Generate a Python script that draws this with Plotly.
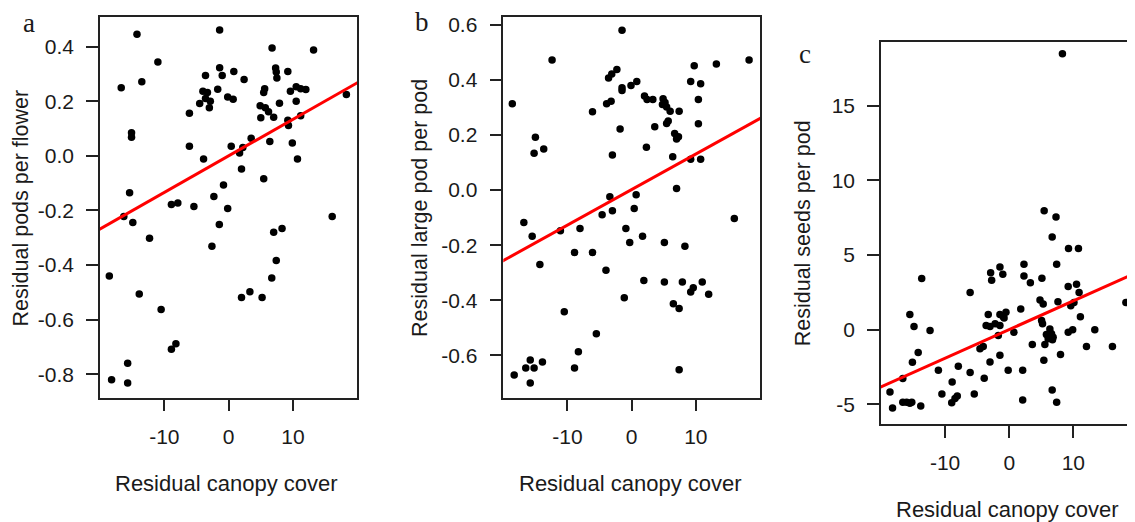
import plotly.graph_objects as go

# ---------------- data ----------------
# Panel a: residual pods per flower
a_x = [-14.25, -16.7, -13.5, -11.0, -15.1, -15.1, -15.4, -16.3, -14.9, -12.3,
       -8.9, -7.9, -5.4, -2.3, -0.8, -0.15, -1.45, -2.6, 5.45, 7.0,
       8.3, 7.4, 6.7, 2.0, 3.3, 5.2, 16.1, -18.55, -13.9, -10.5,
       -8.9, -8.2, -15.7, -18.2, -15.7, -1.4, 6.75, 13.2, -1.4, -1.0,
       -3.6, 0.8, 2.4, 7.3, 7.4, 7.5, 9.2, -4.0, -3.3, -1.7,
       -3.6, -2.85, -4.5, -3.0, -0.15, 0.7, -6.1, 5.6, 5.45, 4.9,
       5.7, 5.0, 6.2, 7.0, 7.9, 9.6, 10.5, 11.2, 12.0, 10.5,
       9.2, 9.3, 11.2, 18.3, -6.1, -3.9, 0.4, 2.2, 1.7, 3.5,
       6.4, 9.9, 10.7, 2.0]
a_y = [0.446, 0.250, 0.272, 0.344, 0.085, 0.068, -0.135, -0.222, -0.244, -0.302,
       -0.178, -0.173, -0.185, -0.149, -0.107, -0.193, -0.251, -0.331, -0.084, -0.280,
       -0.266, -0.383, -0.447, -0.519, -0.498, -0.519, -0.222, -0.440, -0.506, -0.563,
       -0.709, -0.688, -0.760, -0.820, -0.832, 0.461, 0.395, 0.388, 0.323, 0.295,
       0.295, 0.309, 0.280, 0.322, 0.307, 0.285, 0.309, 0.237, 0.232, 0.244,
       0.210, 0.200, 0.192, 0.176, 0.216, 0.208, 0.156, 0.246, 0.232, 0.184,
       0.176, 0.140, 0.162, 0.142, 0.193, 0.237, 0.253, 0.246, 0.243, 0.200,
       0.131, 0.111, 0.147, 0.225, 0.035, -0.011, 0.035, 0.031, 0.011, 0.065,
       0.053, 0.047, -0.011, -0.048]

# Panel b: residual large pod per pod
b_x = [-18.6, -12.4, -15.0, -15.2, -13.7, -1.5, -3.6, -3.1, -2.3, -1.5,
       -1.5, -0.1, 0.8, -3.9, -3.2, -6.1, -1.8, -3.0, 2.0, 2.4,
       3.3, 4.9, 5.2, 4.8, 5.45, 6.0, 7.4, 5.7, 5.45, 3.6,
       6.7, 7.3, 7.0, 2.3, 6.4, 9.75, 13.2, 18.3, 9.2, 10.75,
       10.4, 10.4, 9.2, 10.75, 7.0, -16.8, -15.5, -14.3, -11.1, -8.05,
       -8.9, -6.1, -4.0, -4.6, -3.4, -3.0, -0.9, -0.3, 0.4, 0.7,
       1.7, -1.15, 1.9, 5.1, 5.1, 8.3, 7.9, 6.5, 7.4, 9.2,
       9.6, 11.0, 12.0, 7.4, 16.0, -10.5, -5.5, -8.3, -8.9, -18.3,
       -16.5, -15.8, -15.2, -13.9, -15.8]
b_y = [0.314, 0.473, 0.192, 0.134, 0.149, 0.581, 0.407, 0.422, 0.438, 0.372,
       0.362, 0.380, 0.395, 0.314, 0.323, 0.285, 0.222, 0.128, 0.342, 0.329,
       0.329, 0.332, 0.318, 0.311, 0.302, 0.287, 0.287, 0.251, 0.242, 0.230,
       0.206, 0.194, 0.186, 0.156, 0.121, 0.452, 0.458, 0.473, 0.395, 0.386,
       0.329, 0.241, 0.112, 0.112, 0.006, -0.118, -0.168, -0.270, -0.148, -0.139,
       -0.227, -0.227, -0.291, -0.089, -0.024, -0.075, -0.139, -0.190, -0.067, -0.017,
       -0.168, -0.391, -0.328, -0.190, -0.334, -0.204, -0.334, -0.413, -0.430, -0.370,
       -0.355, -0.334, -0.378, -0.653, -0.103, -0.442, -0.522, -0.587, -0.646, -0.672,
       -0.646, -0.617, -0.646, -0.624, -0.701]

# Panel c: residual seeds per pod
c_x = [8.3, 5.45, 7.3, 6.7, 9.25, 10.8, -13.65, -15.5, -14.85, -12.35,
       -14.2, -15.1, -16.6, -18.6, -18.2, -16.6, -16.0, -15.5, -15.2, -13.8,
       -10.5, -11.05, -8.9, -8.97, -8.46, -8.1, -7.94, -6.1, -6.1, -5.45,
       -3.9, -2.9, -1.45, -1.0, -2.74, -3.27, -1.45, -0.51, -3.6, -3.0,
       -2.2, -1.45, -0.8, -1.7, -4.56, -4.05, -3.0, -1.45, 2.3, 2.3,
       3.3, 5.1, 7.4, 9.2, 10.5, 10.9, 10.1, 9.6, 7.6, 4.8,
       5.3, 1.8, -0.93, 5.05, 5.2, 11.1, 0.73, 6.34, 6.6, 5.8,
       6.85, 6.07, 6.75, 5.56, 9.2, 9.9, 13.35, 3.6, 12.05, 16.1,
       8.0, 18.2, 5.4, -0.16, 2.1, 6.7, 7.4, 2.1]
c_y = [18.47, 7.95, 7.53, 6.20, 5.43, 5.43, 3.41, 1.0, 0.20, -0.07,
       -1.53, -2.19, -3.28, -4.19, -5.25, -4.87, -4.87, -4.94, -4.87, -5.12,
       -4.32, -2.72, -3.52, -4.90, -4.61, -4.45, -2.46, 2.48, -2.88, -4.32,
       -3.26, 3.81, 4.19, 3.70, 3.30, 1.0, 1.0, 1.15, 0.27, 0.20,
       0.38, 0.27, 0.78, -0.40, -1.28, -1.13, -2.17, -1.73, 4.37, 3.59,
       3.14, 3.43, 4.37, 2.88, 3.04, 2.48, 1.81, 1.60, 1.86, 1.97,
       1.71, 1.37, 0.86, 0.60, 0.38, 0.86, -0.18, 0.04, -0.29, -0.33,
       -0.51, -0.62, -0.68, -1.0, -0.18, -0.02, -0.02, -1.0, -1.13, -1.13,
       -1.68, 1.81, -2.06, -2.72, -2.72, -4.05, -4.87, -4.72]

# fitted regression lines (intercept, slope)
fit_a = (0.0, 0.0134)
fit_b = (0.002, 0.0129)
fit_c = (0.0, 0.192)

# tick labels
x_ticks = [-10, 0, 10]
x_tick_text = ["-10", "0", "10"]
a_ticks = [0.4, 0.2, 0.0, -0.2, -0.4, -0.6, -0.8]
a_tick_text = ["0.4", "0.2", "0.0", "-0.2", "-0.4", "-0.6", "-0.8"]
b_ticks = [0.6, 0.4, 0.2, 0.0, -0.2, -0.4, -0.6]
b_tick_text = ["0.6", "0.4", "0.2", "0.0", "-0.2", "-0.4", "-0.6"]
c_ticks = [15, 10, 5, 0, -5]
c_tick_text = ["15", "10", "5", "0", "-5"]

x_title = "Residual canopy cover"
y_titles = ["Residual pods per flower", "Residual large pod per pod", "Residual seeds per pod"]
panel_letters = ["a", "b", "c"]

# ---------------- figure ----------------
FONT = "Liberation Sans, Arial, sans-serif"
SERIF = "Liberation Serif, Times New Roman, serif"
TXT = "#1a1a1a"
OFF = 8                      # default page (body) margin of the browser
W, H = 1135 - OFF, 522 - OFF

def fx(px):   # page pixel -> paper x
    return (px - OFF) / W

def fy(py):   # page pixel -> paper y
    return 1 - (py - OFF) / H

xr_ab = [-20, 20]
xr_c = [-20, 19.62]

fig = go.Figure()

panels = [
    (a_x, a_y, fit_a, "x", "y", xr_ab),
    (b_x, b_y, fit_b, "x2", "y2", xr_ab),
    (c_x, c_y, fit_c, "x3", "y3", xr_c),
]
for px_, py_, (b0, b1), xa, ya, xr in panels:
    fig.add_trace(go.Scatter(x=px_, y=py_, mode="markers", xaxis=xa, yaxis=ya,
                             marker=dict(color="black", size=7.5), showlegend=False,
                             hoverinfo="x+y"))
    lx = [xr[0] - 1, xr[1] + 1]
    fig.add_trace(go.Scatter(x=lx, y=[b0 + b1 * v for v in lx], mode="lines",
                             xaxis=xa, yaxis=ya, line=dict(color="#ff0000", width=3),
                             showlegend=False, hoverinfo="skip"))

def xaxis(domain, rng, anchor):
    return dict(domain=domain, range=rng, anchor=anchor, tickvals=x_ticks, ticktext=x_tick_text,
                ticks="outside", ticklen=12, tickwidth=1.5, tickcolor="#222",
                showline=True, linecolor="#222", linewidth=1.5, mirror=True,
                showgrid=False, zeroline=False, ticklabelstandoff=7,
                tickfont=dict(family=FONT, size=21, color=TXT))

def yaxis(domain, rng, anchor, tv, tt, mirror=True):
    return dict(domain=domain, range=rng, anchor=anchor, tickvals=tv, ticktext=tt,
                ticks="outside", ticklen=12, tickwidth=1.5, tickcolor="#222",
                showline=True, linecolor="#222", linewidth=1.5, mirror=mirror,
                showgrid=False, zeroline=False, ticklabelstandoff=8,
                tickfont=dict(family=FONT, size=21, color=TXT))

ya_dom = [fy(396.7), fy(13.3)]
yc_dom = [fy(423.3), fy(38.3)]

fig.update_layout(
    width=W, height=H, margin=dict(l=0, r=0, t=0, b=0),
    paper_bgcolor="white", plot_bgcolor="white",
    xaxis=xaxis([fx(100.0), fx(357.3)], xr_ab, "y"),
    yaxis=yaxis(ya_dom, [-0.886, 0.508], "x", a_ticks, a_tick_text),
    xaxis2=xaxis([fx(503.3), fx(760.0)], xr_ab, "y2"),
    yaxis2=yaxis(ya_dom, [-0.754, 0.628], "x2", b_ticks, b_tick_text),
    xaxis3=xaxis([fx(881.0), 1.0], xr_c, "y3"),
    yaxis3=yaxis(yc_dom, [-6.33, 19.25], "x3", c_ticks, c_tick_text, mirror=False),
)

ann = []
# panel letters
for letter, (px, py) in zip(panel_letters, [(29, 19), (421.7, 18), (805, 50)]):
    ann.append(dict(text=letter, x=fx(px), y=fy(py), xref="paper", yref="paper",
                    showarrow=False, xanchor="center", yanchor="middle",
                    font=dict(family=SERIF, size=27, color=TXT)))
# y titles
for t, (px, py) in zip(y_titles, [(21, 206), (420.5, 206), (803, 231)]):
    ann.append(dict(text=t, x=fx(px), y=fy(py), xref="paper", yref="paper",
                    showarrow=False, textangle=-90, xanchor="center", yanchor="middle",
                    font=dict(family=FONT, size=21.5, color=TXT)))
# x titles
for px, py in [(226, 483), (630, 483), (1007.5, 509)]:
    ann.append(dict(text=x_title, x=fx(px), y=fy(py), xref="paper", yref="paper",
                    showarrow=False, xanchor="center", yanchor="middle",
                    font=dict(family=FONT, size=22, color=TXT)))
fig.update_layout(annotations=ann)

fig.write_html("out.html")
